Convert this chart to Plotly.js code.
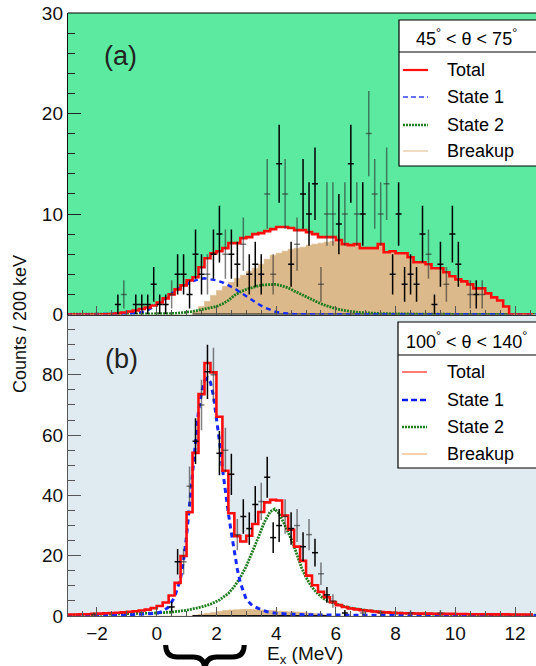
<!DOCTYPE html>
<html>
<head>
<meta charset="utf-8">
<script src="https://cdn.plot.ly/plotly-3.0.1.min.js"></script>
<style>
  html, body { margin: 0; padding: 0; background: #ffffff; }
  #chart { width: 536px; height: 666px; }
</style>
</head>
<body>
<div id="chart"></div>
<script>
// ---------- binning (MeV) ----------
const binLow = -3.0;
const binWidth = 0.2;

// ---------- panel (a): 45 < theta < 75 ----------
const topTotal = [
  0, 0, 0, 0, 0, 0,
  0.02, 0.05, 0.1, 0.2, 0.3, 0.4, 0.55, 0.7, 0.9,
  1.2, 1.6, 2.0, 2.5, 2.9, 3.4, 3.7, 4.7, 5.6, 6.1,
  6.3, 6.6, 7.1, 7.1, 7.6, 7.7, 8.0, 8.1, 8.3, 8.5,
  8.7, 8.7, 8.6, 8.4, 8.4, 8.2, 8.0, 7.7, 7.7, 7.7,
  7.4, 7.0, 6.9, 7.0, 6.6, 6.6, 6.6, 7.0, 6.2, 6.3,
  6.1, 6.1, 5.7, 5.2, 5.2, 5.0, 4.6, 4.6, 4.2, 3.8,
  3.5, 3.3, 3.0, 2.6, 2.6, 2.1, 1.7, 1.4, 0.8, 0,
  0, 0, 0
];
const topBreakup = [
  0, 0, 0, 0, 0, 0, 0, 0, 0, 0, 0, 0, 0, 0, 0, 0, 0, 0, 0, 0, 0,
  0.3, 0.8, 1.3, 1.9, 2.4, 2.8, 3.2, 3.6, 3.9, 4.3,
  4.6, 5.0, 5.5, 5.9, 6.1, 6.3, 6.5, 6.6, 6.7, 6.9,
  7.0, 7.1, 7.2, 7.3, 7.2, 6.9, 6.8, 6.9, 6.5, 6.5,
  6.5, 6.9, 6.1, 6.2, 6.0, 6.0, 5.6, 5.1, 5.1, 4.9,
  4.5, 4.5, 4.1, 3.7, 3.4, 3.2, 2.9, 2.5, 2.5, 2.0,
  1.6, 1.3, 0.7, 0, 0, 0, 0
];
const topState1E = [-3, -1.0, -0.8, -0.6, -0.4, -0.2, 0.0, 0.2, 0.4, 0.6, 0.8, 1.0, 1.2, 1.4, 1.6, 1.8, 2.0, 2.2, 2.4, 2.6, 2.8, 3.0, 3.2, 3.4, 3.6, 3.8, 4.0, 4.2, 4.4, 4.6, 5.0, 12.7];
const topState1Y = [0, 0.05, 0.1, 0.2, 0.3, 0.6, 1.0, 1.4, 1.9, 2.3, 2.7, 3.0, 3.3, 3.5, 3.6, 3.5, 3.4, 3.2, 2.9, 2.6, 2.2, 1.8, 1.4, 1.05, 0.7, 0.45, 0.25, 0.15, 0.08, 0.04, 0.01, 0];
const topState2E = [-3, 0, 0.4, 0.8, 1.2, 1.6, 2.0, 2.2, 2.4, 2.6, 2.8, 3.0, 3.2, 3.4, 3.6, 3.8, 4.0, 4.2, 4.4, 4.6, 4.8, 5.0, 5.2, 5.4, 5.6, 5.8, 6.0, 6.2, 6.4, 6.6, 6.8, 7.0, 7.5, 8.0, 9.0, 10.0, 12.7];
const topState2Y = [0.02, 0.03, 0.08, 0.15, 0.3, 0.55, 0.8, 1.05, 1.4, 1.9, 2.25, 2.5, 2.7, 2.85, 2.95, 3.0, 3.0, 2.85, 2.65, 2.35, 2.05, 1.75, 1.45, 1.2, 0.95, 0.75, 0.58, 0.45, 0.34, 0.26, 0.2, 0.15, 0.09, 0.06, 0.03, 0.02, 0.01];
const topBlackE = [-1.3, -0.7, -0.5, -0.3, -0.1, 0.1, 0.3, 0.7, 0.9, 1.1, 1.3, 1.5, 1.9, 2.1, 2.5, 2.7, 3.1, 3.3, 3.5, 4.1, 4.5, 4.9, 5.1, 5.3, 6.1, 6.5, 6.9, 7.9, 8.1, 8.3, 8.5, 8.7, 8.9, 9.3, 9.5, 9.9, 10.1, 10.7];
const topBlackN = [1, 1, 1, 1, 3, 1, 1, 4, 4, 2, 6, 4, 6, 8, 6, 5, 4, 5, 4, 15, 5, 12, 10, 13, 9, 15, 10, 4, 10, 3, 4, 3, 8, 1, 5, 8, 5, 2];
const topGrayE = [-1.1, 0.5, 1.7, 2.3, 2.9, 3.7, 3.9, 4.3, 4.7, 5.5, 5.7, 5.9, 6.3, 6.7, 7.1, 7.3, 7.5, 7.7, 9.1, 9.7, 10.5, 10.9];
const topGrayN = [2, 2, 4, 6, 7, 12, 4, 12, 7, 3, 10, 10, 10, 10, 18, 12, 10, 13, 6, 3, 2, 2];

// ---------- panel (b): 100 < theta < 140 ----------
const bottomTotal = [
  0.5, 0.5, 0.6, 0.6, 0.7, 0.8, 0.9, 1.0, 1.1, 1.2,
  1.4, 1.6, 1.8, 2.1, 2.6, 3.3, 4.5, 6.8, 11.0, 19.9,
  34.4, 54.1, 73.6, 83.9, 80.8, 66.1, 48.2, 34.1, 26.5, 24.7,
  26.6, 30.5, 34.5, 37.7, 38.5, 38.3, 33.3, 28.6, 23.0, 18.3,
  13.4, 10.2, 8.0, 6.2, 4.6, 3.6, 3.0, 2.5, 2.2, 1.9,
  1.7, 1.5, 1.3, 1.2, 1.1, 1.0, 0.9, 0.9, 0.85, 0.8,
  0.8, 0.75, 0.7, 0.7, 0.7, 0.65, 0.65, 0.6, 0.6, 0.6,
  0.6, 0.55, 0.55, 0.55, 0.5, 0.5, 0.5, 0.5
];
const bottomBreakup = [
  0, 0, 0, 0, 0, 0, 0, 0, 0, 0, 0, 0, 0, 0, 0, 0, 0, 0, 0, 0, 0,
  0.3, 0.6, 0.9, 1.2, 1.5, 1.8, 2.0, 2.1, 2.2, 2.2,
  2.1, 2.0, 1.9, 1.8, 1.6, 1.5, 1.4, 1.3, 1.2, 1.0,
  0.8, 0.6, 0.3,
  0, 0, 0, 0, 0, 0, 0, 0, 0, 0, 0, 0, 0, 0, 0, 0, 0,
  0, 0, 0, 0, 0, 0, 0, 0, 0, 0, 0, 0, 0, 0, 0, 0, 0
];
const bottomState1E = [-3, -1, 0, 0.2, 0.4, 0.6, 0.8, 0.9, 1.0, 1.1, 1.2, 1.3, 1.4, 1.5, 1.6, 1.7, 1.8, 1.9, 2.0, 2.1, 2.2, 2.3, 2.4, 2.5, 2.6, 2.7, 2.8, 2.9, 3.0, 3.2, 3.4, 3.7, 4.0, 4.5, 5, 6, 8, 12.7];
const bottomState1Y = [0.1, 0.3, 0.9, 1.5, 3.0, 6.3, 12.5, 18.5, 26.5, 37, 48, 59, 68, 74, 78, 79, 77.5, 73, 66, 58, 49, 41, 34, 27.5, 21, 15.5, 11, 8, 5.5, 3.5, 2.5, 1.4, 0.9, 0.6, 0.4, 0.3, 0.2, 0.1];
const bottomState2E = [-3, -1, 0, 0.5, 1.0, 1.5, 1.8, 2.1, 2.4, 2.6, 2.8, 3.0, 3.2, 3.4, 3.6, 3.8, 3.95, 4.1, 4.25, 4.4, 4.55, 4.7, 4.85, 5.0, 5.2, 5.4, 5.6, 5.8, 6.0, 6.4, 7.0, 7.7, 8.5, 10, 12.7];
const bottomState2Y = [0.3, 0.6, 1.0, 1.3, 1.9, 3.0, 3.9, 5.3, 7.5, 9.8, 12.8, 16.5, 21, 26, 31, 34.6, 35.5, 34.0, 31.0, 28.0, 24.5, 20.3, 16.0, 12.8, 9.5, 7.3, 5.7, 4.7, 4.0, 2.8, 1.9, 1.1, 0.8, 0.5, 0.3];
const bottomBlackE = [0.5, 0.7, 1.3, 1.7, 2.1, 2.5, 2.9, 3.1, 3.3, 3.7, 3.9, 4.1, 4.5, 4.9, 5.3, 5.7, 6.3];
const bottomBlackN = [3, 18, 58, 81, 54, 47, 33, 29, 37, 46, 26, 30, 29, 23, 21, 7, 1];
const bottomGrayE = [-2.1, 0.9, 1.1, 1.5, 1.9, 2.3, 2.7, 3.5, 4.3, 4.7, 5.1, 5.5, 5.9, 6.9, 7.5, 8.5, 9.5];
const bottomGrayN = [0.5, 18, 43, 70, 80, 55, 27, 38, 33, 30, 27, 14, 5, 1, 1, 1, 1];

// ---------- styling ----------
const FONT = 'Liberation Sans, Arial, Helvetica, sans-serif';
const C = {
  topBg: '#5beaa0', bottomBg: '#e0eaf1',
  total: '#ff0d0d', state1: '#1428ff', state2: '#1e7d1e',
  breakup: '#dbb98a', black: '#000000', gray: 'rgba(45,45,45,0.6)'
};
const X_RANGE = [-2.97, 12.7];

// page geometry
const W = 536, H = 666, M = {l: 68, r: 0, t: 13, b: 50};
const plotW = W - M.l - M.r, plotH = H - M.t - M.b;
const px2x = p => (p - M.l) / plotW;
const py2y = p => (H - M.b - p) / plotH;
const e2x = e => (e - X_RANGE[0]) / (X_RANGE[1] - X_RANGE[0]);

function stepXY(vals) {
  const x = [], y = [];
  vals.forEach((v, i) => { x.push(+(binLow + i * binWidth).toFixed(3)); y.push(v); });
  x.push(+(binLow + vals.length * binWidth).toFixed(3));
  y.push(vals[vals.length - 1]);
  return {x, y};
}

function nonzeroSpan(vals) {
  let a = -1, b = -1;
  vals.forEach((v, i) => { if (v > 0) { if (a < 0) a = i; b = i; } });
  return [+(binLow + a * binWidth).toFixed(3), +(binLow + (b + 1) * binWidth).toFixed(3)];
}

function panelTraces(p, xa, ya) {
  const tot = stepXY(p.total), brk = stepXY(p.breakup);
  const span = nonzeroSpan(p.breakup);
  const common = {xaxis: xa, yaxis: ya, hoverinfo: 'skip', showlegend: false};
  const pts = (E, N, color) => Object.assign({
    type: 'scatter', mode: 'markers', x: E, y: N,
    marker: {size: 2, color: 'rgba(0,0,0,0)'},
    error_x: {type: 'constant', value: binWidth / 2, width: 0, thickness: 1.5, color},
    error_y: {type: 'data', array: N.map(n => Math.sqrt(n)), width: 0, thickness: 1.5, color}
  }, common);
  return [
    Object.assign({type: 'scatter', mode: 'lines', x: tot.x, y: tot.y, line: {shape: 'hv', width: 0, color: '#ffffff'}, fill: 'tozeroy', fillcolor: '#ffffff'}, common),
    Object.assign({type: 'scatter', mode: 'lines', x: brk.x, y: brk.y, line: {shape: 'hv', width: 0.6, color: C.breakup}, fill: 'tozeroy', fillcolor: C.breakup}, common),
    Object.assign({type: 'scatter', mode: 'lines', x: span, y: [0, 0], line: {width: 2, color: '#111'}}, common),
    Object.assign({type: 'scatter', mode: 'lines', x: p.s2E, y: p.s2Y, line: {width: 2.8, color: C.state2, dash: '2px,1px'}}, common),
    Object.assign({type: 'scatter', mode: 'lines', x: p.s1E, y: p.s1Y, line: {width: p.s1W, color: C.state1, dash: '5px,4px'}}, common),
    Object.assign({type: 'scatter', mode: 'lines', x: tot.x, y: tot.y, line: {shape: 'hv', width: 2.6, color: C.total}}, common),
    pts(p.grayE, p.grayN, C.gray),
    pts(p.blackE, p.blackN, C.black)
  ];
}

const traces = [].concat(
  panelTraces({total: topTotal, breakup: topBreakup, s1E: topState1E, s1Y: topState1Y, s1W: 2.4,
               s2E: topState2E, s2Y: topState2Y, blackE: topBlackE, blackN: topBlackN,
               grayE: topGrayE, grayN: topGrayN}, 'x2', 'y2'),
  panelTraces({total: bottomTotal, breakup: bottomBreakup, s1E: bottomState1E, s1Y: bottomState1Y, s1W: 3,
               s2E: bottomState2E, s2Y: bottomState2Y, blackE: bottomBlackE, blackN: bottomBlackN,
               grayE: bottomGrayE, grayN: bottomGrayN}, 'x', 'y')
);

// ---------- legends (drawn as boxes with samples) ----------
const legendRows = [
  {name: 'Total', key: 'total'},
  {name: 'State 1', key: 'state1'},
  {name: 'State 2', key: 'state2'},
  {name: 'Breakup', key: 'breakup'}
];
const legendBoxes = [
  {x0: 399, y0: 20, y1: 166, ysep: 52, headerY: 37, rows: [70, 97, 125, 151],
   header: '45<sup>°</sup> < θ < 75<sup>°</sup>',
   style: {total: {c: C.total, w: 2.2}, state1: {c: '#3344ff', w: 1.6, d: '5px,3px'},
           state2: {c: C.state2, w: 2.4, d: '2px,1px'}, breakup: {c: '#f0dcc0', w: 2}}},
  {x0: 398, y0: 322, y1: 468, ysep: 355, headerY: 340, rows: [372, 400, 427, 454],
   header: '100<sup>°</sup> < θ < 140<sup>°</sup>',
   style: {total: {c: C.total, w: 1.1}, state1: {c: '#0a1aee', w: 2.4, d: '6px,3px'},
           state2: {c: C.state2, w: 2.4, d: '2px,1px'}, breakup: {c: '#e9ad6a', w: 1.1}}}
];

const shapes = [
  {type: 'rect', xref: 'x2 domain', yref: 'y2 domain', x0: 0, x1: 1, y0: 0, y1: 1, fillcolor: C.topBg, line: {width: 0}, layer: 'below'},
  {type: 'rect', xref: 'x domain', yref: 'y domain', x0: 0, x1: 1, y0: 0, y1: 1, fillcolor: C.bottomBg, line: {width: 0}, layer: 'below'},
  {type: 'line', xref: 'paper', yref: 'paper', x0: 0, x1: 1, y0: 1, y1: 1, line: {color: '#000', width: 1.2}}
];
const annotations = [];

legendBoxes.forEach(b => {
  shapes.push({type: 'rect', xref: 'paper', yref: 'paper', x0: px2x(b.x0), x1: px2x(W + 4),
               y0: py2y(b.y1), y1: py2y(b.y0), fillcolor: '#ffffff', line: {color: '#000', width: 1.2}});
  shapes.push({type: 'line', xref: 'paper', yref: 'paper', x0: px2x(b.x0), x1: px2x(W + 4),
               y0: py2y(b.ysep), y1: py2y(b.ysep), line: {color: '#000', width: 1.2}});
  annotations.push({xref: 'paper', yref: 'paper', x: px2x(466), y: py2y(b.headerY), xanchor: 'center', yanchor: 'middle',
                    text: b.header, showarrow: false, font: {family: FONT, size: 18, color: '#000'}});
  legendRows.forEach((r, i) => {
    const s = b.style[r.key];
    shapes.push({type: 'line', xref: 'paper', yref: 'paper', x0: px2x(b.x0 + 4), x1: px2x(b.x0 + 29),
                 y0: py2y(b.rows[i]), y1: py2y(b.rows[i]), line: {color: s.c, width: s.w, dash: s.d || 'solid'}});
    annotations.push({xref: 'paper', yref: 'paper', x: px2x(445), y: py2y(b.rows[i]), xanchor: 'left', yanchor: 'middle',
                      text: r.name, showarrow: false, font: {family: FONT, size: 18, color: '#000'}});
  });
});

// panel tags and axis titles
annotations.push({xref: 'paper', yref: 'paper', x: px2x(120), y: py2y(56), xanchor: 'center', yanchor: 'middle',
                  text: '(a)', showarrow: false, font: {family: FONT, size: 27, color: '#222'}});
annotations.push({xref: 'paper', yref: 'paper', x: px2x(121), y: py2y(359), xanchor: 'center', yanchor: 'middle',
                  text: '(b)', showarrow: false, font: {family: FONT, size: 27, color: '#222'}});
annotations.push({xref: 'paper', yref: 'paper', x: px2x(20), y: py2y(324), xanchor: 'center', yanchor: 'middle',
                  textangle: -90, text: 'Counts / 200 keV', showarrow: false, font: {family: FONT, size: 18, color: '#111'}});
annotations.push({xref: 'paper', yref: 'paper', x: px2x(305), y: py2y(655), xanchor: 'center', yanchor: 'middle',
                  text: 'E<sub>x</sub> (MeV)', showarrow: false, font: {family: FONT, size: 19, color: '#111'}});

// curly brace under the axis marking the low-lying peak region
const braceFrom = 0.3, braceTo = 2.93;
(function () {
  const a = e2x(braceFrom), b = e2x(braceTo), m = (a + b) / 2;
  const yT = py2y(645), yM = py2y(657), yB = py2y(670);
  const dx = 0.025;
  const path = `M ${a},${yT} Q ${a},${yM} ${a + dx},${yM} L ${m - dx},${yM} Q ${m},${yM} ${m},${yB} ` +
               `Q ${m},${yM} ${m + dx},${yM} L ${b - dx},${yM} Q ${b},${yM} ${b},${yT}`;
  shapes.push({type: 'path', xref: 'paper', yref: 'paper', path, line: {color: '#000', width: 5}});
})();

const tickFont = {family: FONT, size: 19, color: '#111'};
const xCommon = {
  range: X_RANGE, tickmode: 'linear', tick0: 0, dtick: 2, ticks: 'inside', ticklen: 9, tickwidth: 1,
  tickcolor: '#555', showline: true, linewidth: 1, zeroline: false, showgrid: false,
  minor: {tickmode: 'linear', tick0: 0, dtick: 0.5, ticks: 'inside', ticklen: 5, tickcolor: '#555', showgrid: false}
};

const layout = {
  width: W, height: H,
  margin: M,
  paper_bgcolor: '#ffffff', plot_bgcolor: 'rgba(0,0,0,0)',
  showlegend: false,
  font: {family: FONT, size: 18, color: '#111'},
  xaxis: Object.assign({}, xCommon, {anchor: 'y', domain: [0, 1], linecolor: '#555', tickfont: tickFont}),
  xaxis2: Object.assign({}, xCommon, {anchor: 'y2', domain: [0, 1], matches: 'x', showticklabels: false, linecolor: '#333'}),
  yaxis: {
    domain: [0, 0.5], anchor: 'x', range: [0, 100], tickmode: 'array', tickvals: [0, 20, 40, 60, 80],
    ticks: 'inside', ticklen: 13, tickwidth: 1, tickcolor: '#555', showline: true, linecolor: '#555', linewidth: 1,
    zeroline: false, showgrid: false, tickfont: tickFont,
    minor: {tickmode: 'linear', tick0: 0, dtick: 5, ticks: 'inside', ticklen: 7, tickcolor: '#555', showgrid: false}
  },
  yaxis2: {
    domain: [0.5, 1], anchor: 'x2', range: [0, 30], tickmode: 'linear', tick0: 0, dtick: 10,
    ticks: 'inside', ticklen: 13, tickwidth: 1, tickcolor: '#222', showline: true, linecolor: '#111', linewidth: 1.2,
    zeroline: false, showgrid: false, tickfont: tickFont,
    minor: {tickmode: 'linear', tick0: 0, dtick: 2, ticks: 'inside', ticklen: 7, tickcolor: '#222', showgrid: false}
  },
  shapes, annotations
};

Plotly.newPlot('chart', traces, layout, {displayModeBar: false, staticPlot: true});
</script>
</body>
</html>
